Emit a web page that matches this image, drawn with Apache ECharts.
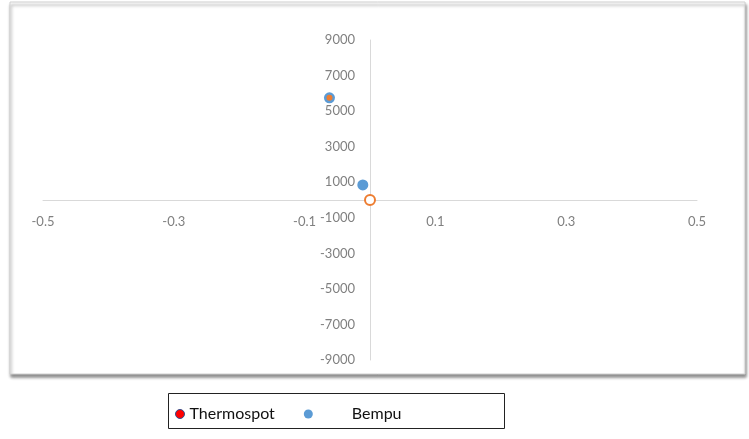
<!DOCTYPE html>
<html>
<head>
<meta charset="utf-8">
<script src="https://cdn.jsdelivr.net/npm/echarts@6/dist/echarts.min.js"></script>
<style>
  html, body { margin: 0; padding: 0; background: #fff; }
  #chart { width: 749px; height: 439px; }
</style>
</head>
<body>
<div id="chart"></div>
<script>
var seriesNames = ['Thermospot', 'Bempu'];
// [x, y] pairs
var thermospotData = [[-0.062, 5750], [0, 0]];
var bempuData = [[-0.062, 5750], [-0.011, 850]];
var xTicks = [-0.5, -0.3, -0.1, 0.1, 0.3, 0.5];
var yTicks = [-9000, -7000, -5000, -3000, -1000, 1000, 3000, 5000, 7000, 9000];

var gridLeft = 43, gridRight = 52, gridTop = 40, gridBottom = 79;
var gridW = 749 - gridLeft - gridRight;
var gridH = 439 - gridTop - gridBottom;

var myChart = echarts.init(document.getElementById('chart'));
var labelStyle = { color: '#808080', fontFamily: 'Lato', fontSize: 13 };

var option = {
    backgroundColor: '#fff',
    animation: false,
    graphic: [
        {
            type: 'rect', z: -10,
            shape: { x: 10, y: 2, width: 735, height: 372 },
            style: {
                fill: '#fff', stroke: '#d0d0d0', lineWidth: 1,
                shadowBlur: 3, shadowOffsetX: 1, shadowOffsetY: 3, shadowColor: 'rgba(0,0,0,0.45)'
            }
        },
        {
            type: 'rect', z: -10,
            shape: { x: 168.5, y: 393.5, width: 336, height: 35 },
            style: { fill: '#fff', stroke: '#222', lineWidth: 1 }
        }
    ],
    grid: {
        left: gridLeft, right: gridRight, top: gridTop, bottom: gridBottom,
        containLabel: false, outerBoundsMode: 'none'
    },
    xAxis: {
        type: 'value',
        min: xTicks[0],
        max: xTicks[xTicks.length - 1],
        interval: 0.2,
        // axis range is symmetric, so half the grid height puts it on y = 0
        offset: -gridH / 2,
        axisLine: { onZero: false, lineStyle: { color: '#d9d9d9', width: 1 } },
        axisTick: { show: false },
        splitLine: { show: false },
        axisLabel: Object.assign({ margin: 15, formatter: function (v) { return String(+v.toFixed(1)); } }, labelStyle)
    },
    yAxis: {
        type: 'value',
        min: yTicks[0],
        max: yTicks[yTicks.length - 1],
        interval: 2000,
        offset: -gridW / 2,
        axisLine: { show: true, onZero: false, lineStyle: { color: '#d9d9d9', width: 1 } },
        axisTick: { show: false },
        splitLine: { show: false },
        axisLabel: Object.assign({ margin: 15, formatter: function (v) { return String(v); } }, labelStyle)
    },
    legend: {
        left: 170,
        top: 401,
        itemWidth: 9,
        itemHeight: 11,
        itemGap: 29,
        icon: 'circle',
        data: [
            { name: seriesNames[0], itemStyle: { color: '#ff0000', borderColor: '#2f4f8f', borderWidth: 1 } },
            { name: seriesNames[1], itemStyle: { color: '#5b9bd5' } }
        ],
        formatter: function (name) {
            return name === 'Bempu' ? '{b|' + name + '}' : '{a|' + name + '}';
        },
        textStyle: {
            color: '#111',
            fontFamily: 'Lato',
            fontSize: 16,
            rich: {
                a: { fontFamily: 'Lato', fontSize: 16, color: '#111' },
                b: { fontFamily: 'Lato', fontSize: 16, color: '#111', padding: [0, 0, 0, 34] }
            }
        }
    },
    series: [
        {
            name: seriesNames[1],
            type: 'scatter',
            symbolSize: 11,
            itemStyle: { color: '#5b9bd5', opacity: 1 },
            data: bempuData
        },
        {
            name: seriesNames[0],
            type: 'scatter',
            z: 3,
            itemStyle: { color: '#ed7d31', opacity: 1 },
            data: thermospotData.map(function (d, i) {
                if (i === 0) {
                    return { value: d, symbolSize: 6 };
                }
                return {
                    value: d,
                    symbolSize: 10,
                    itemStyle: { color: '#fff', borderColor: '#ed7d31', borderWidth: 2 }
                };
            })
        }
    ]
};
myChart.setOption(option);

window.addEventListener('resize', function () {
    myChart.resize();
});
</script>
</body>
</html>
